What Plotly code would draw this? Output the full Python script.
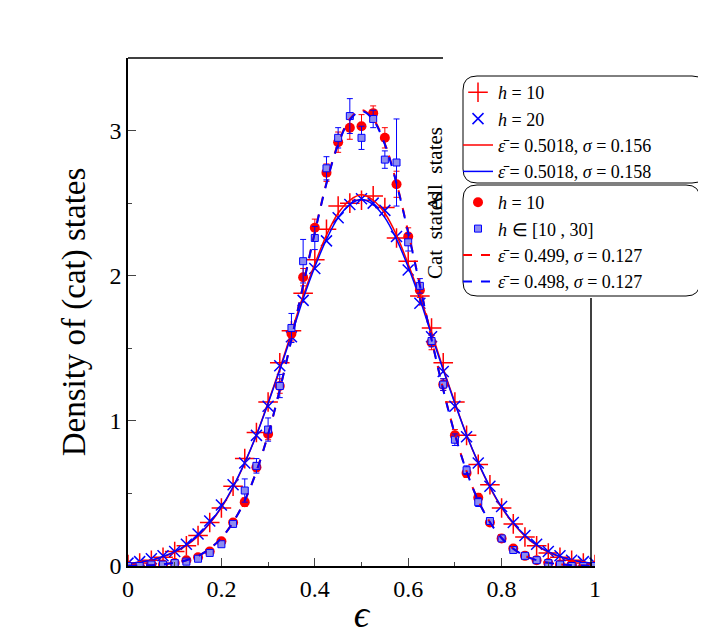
import plotly.graph_objs as go

# grid of epsilon values (step 0.025)
x = [i * 0.025 for i in range(41)]

# fitted curves, all states
half_all = [0.015, 0.025, 0.040, 0.063, 0.095, 0.142, 0.206, 0.292, 0.402, 0.542,
            0.710, 0.903, 1.126, 1.36, 1.61, 1.86, 2.08, 2.28, 2.43, 2.52, 2.557]
fit_all_h10 = half_all + half_all[-2::-1]
half_all20 = [0.016, 0.027, 0.042, 0.066, 0.099, 0.146, 0.211, 0.297, 0.407, 0.546,
              0.712, 0.902, 1.120, 1.35, 1.59, 1.84, 2.06, 2.25, 2.40, 2.49, 2.525]
fit_all_h20 = half_all20 + half_all20[-2::-1]

# fitted curves, cat states
half_cat = [0.001, 0.003, 0.006, 0.012, 0.022, 0.040, 0.070, 0.119, 0.193, 0.302,
            0.451, 0.653, 0.908, 1.216, 1.564, 1.936, 2.30, 2.64, 2.91, 3.08, 3.141]
fit_cat_h10 = half_cat + half_cat[-2::-1]
fit_cat_range = [v * 0.998 for v in fit_cat_h10]

# data points
all_h10 = [0.01, 0.02, 0.04, 0.06, 0.10, 0.14, 0.21, 0.30, 0.40, 0.55,
           0.74, 0.92, 1.13, 1.40, 1.62, 1.88, 2.11, 2.32, 2.48, 2.50, 2.52,
           2.55, 2.47, 2.26, 2.10, 1.86, 1.64, 1.40, 1.13, 0.90, 0.70,
           0.56, 0.40, 0.29, 0.20, 0.14, 0.09, 0.06, 0.04, 0.02, 0.01]
all_h20 = [0.02, 0.03, 0.05, 0.07, 0.10, 0.15, 0.22, 0.31, 0.42, 0.56,
           0.71, 0.90, 1.10, 1.38, 1.58, 1.83, 2.05, 2.24, 2.40, 2.49, 2.53,
           2.50, 2.45, 2.27, 2.04, 1.81, 1.58, 1.34, 1.10, 0.89, 0.71,
           0.55, 0.41, 0.30, 0.21, 0.15, 0.10, 0.07, 0.04, 0.03, 0.02]
cat_h10 = [0.0, 0.0, 0.01, 0.01, 0.02, 0.04, 0.06, 0.10, 0.17, 0.30,
           0.44, 0.68, 0.91, 1.24, 1.60, 1.99, 2.33, 2.71, 2.92, 3.02, 3.03,
           3.12, 2.95, 2.63, 2.27, 1.90, 1.54, 1.25, 0.90, 0.64, 0.47,
           0.30, 0.19, 0.12, 0.07, 0.04, 0.02, 0.01, 0.01, 0.0, 0.0]
cat_h10_err = [0, 0, 0, 0, 0, 0, 0, 0, 0, 0,
               0.03, 0.03, 0.04, 0.05, 0.05, 0.06, 0.06, 0.06, 0.07, 0.08, 0.08,
               0.05, 0.07, 0.09, 0.06, 0.05, 0.05, 0.04, 0.04, 0.03, 0.03,
               0, 0, 0, 0, 0, 0, 0, 0, 0, 0]
cat_range = [0.0, 0.0, 0.01, 0.01, 0.02, 0.03, 0.05, 0.09, 0.15, 0.29,
             0.52, 0.69, 0.94, 1.24, 1.64, 2.10, 2.26, 2.74, 2.95, 3.10, 2.95,
             3.08, 2.80, 2.78, 2.23, 1.93, 1.55, 1.25, 0.87, 0.66, 0.44,
             0.31, 0.19, 0.11, 0.07, 0.04, 0.02, 0.01, 0.0, 0.0, 0.0]
cat_range_err = [0, 0, 0, 0, 0, 0, 0, 0, 0, 0,
                 0.08, 0.05, 0.08, 0.08, 0.10, 0.15, 0.08, 0.08, 0.07, 0.12, 0.08,
                 0.06, 0.06, 0.30, 0.06, 0.05, 0.04, 0.04, 0.04, 0.03, 0.03,
                 0, 0, 0, 0, 0, 0, 0, 0, 0, 0]

RED = "#ff0000"
BLUE = "#0000ff"
FONT = "Times New Roman, Liberation Serif, serif"

fig = go.Figure()

fig.add_trace(go.Scatter(x=x, y=all_h10, mode="markers", name="<i>h</i> = 10",
                         marker=dict(symbol="cross-thin", size=14, line=dict(color=RED, width=1.5)),
                         legend="legend"))
fig.add_trace(go.Scatter(x=x, y=all_h20, mode="markers", name="<i>h</i> = 20",
                         marker=dict(symbol="x-thin", size=11, line=dict(color=BLUE, width=1.5)),
                         legend="legend"))
fig.add_trace(go.Scatter(x=x, y=fit_all_h10, mode="lines", line_shape="spline",
                         name="<i>ε̄</i> = 0.5018, <i>σ</i> = 0.156",
                         line=dict(color=RED, width=1.5), legend="legend"))
fig.add_trace(go.Scatter(x=x, y=fit_all_h20, mode="lines", line_shape="spline",
                         name="<i>ε̄</i> = 0.5018, <i>σ</i> = 0.158",
                         line=dict(color=BLUE, width=1.5), legend="legend"))

fig.add_trace(go.Scatter(x=x, y=cat_h10, mode="markers", name="<i>h</i> = 10",
                         marker=dict(symbol="circle", size=10, color=RED),
                         error_y=dict(array=cat_h10_err, color=RED, width=3, thickness=1),
                         legend="legend2"))
fig.add_trace(go.Scatter(x=x, y=cat_range, mode="markers", name="<i>h</i> ∈ [10 , 30]",
                         marker=dict(symbol="square", size=7, color="#8c8cf0",
                                     line=dict(color=BLUE, width=1)),
                         error_y=dict(array=cat_range_err, color=BLUE, width=3, thickness=1),
                         legend="legend2"))
fig.add_trace(go.Scatter(x=x, y=fit_cat_h10, mode="lines", line_shape="spline",
                         name="<i>ε̄</i> = 0.499, <i>σ</i> = 0.127",
                         line=dict(color=RED, width=2, dash="dash"), legend="legend2"))
fig.add_trace(go.Scatter(x=x, y=fit_cat_range, mode="lines", line_shape="spline",
                         name="<i>ε̄</i> = 0.498, <i>σ</i> = 0.127",
                         line=dict(color=BLUE, width=2, dash="dash"), legend="legend2"))


def px(vx):
    return (vx - 120) / 467


def py(vy):
    return (558 - vy) / 508


def rounded_box(x0, y0, x1, y1, r):
    # rounded rectangle path in paper units
    rx, ry = r / 467, r / 508
    return (f"M {x0+rx},{y0} L {x1-rx},{y0} Q {x1},{y0} {x1},{y0+ry} "
            f"L {x1},{y1-ry} Q {x1},{y1} {x1-rx},{y1} L {x0+rx},{y1} "
            f"Q {x0},{y1} {x0},{y1-ry} L {x0},{y0+ry} Q {x0},{y0} {x0+rx},{y0} Z")


shapes = [
    dict(type="path", xref="paper", yref="paper", line=dict(color="black", width=1),
         fillcolor="white", layer="below", path=rounded_box(px(455), py(175), px(698), py(68), 14)),
    dict(type="path", xref="paper", yref="paper", line=dict(color="black", width=1),
         fillcolor="white", layer="below", path=rounded_box(px(455), py(288), px(692), py(177), 14)),
    # partial frame lines
    dict(type="line", xref="paper", yref="paper", x0=0, x1=px(435), y0=1, y1=1,
         line=dict(color="black", width=1.5)),
    dict(type="line", xref="paper", yref="paper", x0=px(583), x1=px(583), y0=0, y1=py(290),
         line=dict(color="black", width=1.5)),
]

legend_style = dict(font=dict(family=FONT, size=18, color="black"), bgcolor="rgba(0,0,0,0)",
                    borderwidth=0, tracegroupgap=0, itemwidth=30, xanchor="left", yanchor="top")

fig.update_layout(
    width=706, height=643,
    margin=dict(l=120, r=119, t=50, b=85, autoexpand=False),
    plot_bgcolor="white", paper_bgcolor="white",
    font=dict(family=FONT, size=24, color="black"),
    shapes=shapes,
    legend=dict(x=px(450), y=py(66), **legend_style),
    legend2=dict(x=px(450), y=py(176), **legend_style),
    annotations=[
        dict(text="All  states", xref="paper", yref="paper", x=px(441), y=py(117),
             textangle=-90, showarrow=False, font=dict(family=FONT, size=21)),
        dict(text="Cat  states", xref="paper", yref="paper", x=px(441), y=py(228),
             textangle=-90, showarrow=False, font=dict(family=FONT, size=21)),
    ],
    xaxis=dict(range=[0, 1], tickvals=[0, 0.2, 0.4, 0.6, 0.8, 1],
               ticktext=["0", "0.2", "0.4", "0.6", "0.8", "1"],
               ticks="inside", ticklen=8, showline=True, linecolor="black", linewidth=1.5,
               showgrid=False, zeroline=False,
               minor=dict(dtick=0.1, ticks="inside", ticklen=4),
               title=dict(text="<i>ϵ</i>", font=dict(size=38), standoff=0)),
    yaxis=dict(range=[0, 3.5], tickvals=[0, 1, 2, 3],
               ticks="inside", ticklen=8, showline=True, linecolor="black", linewidth=1.5,
               showgrid=False, zeroline=False,
               minor=dict(dtick=0.5, ticks="inside", ticklen=4),
               title=dict(text="Density of (cat) states", font=dict(size=33), standoff=14)),
)

fig.write_html("out.html")
